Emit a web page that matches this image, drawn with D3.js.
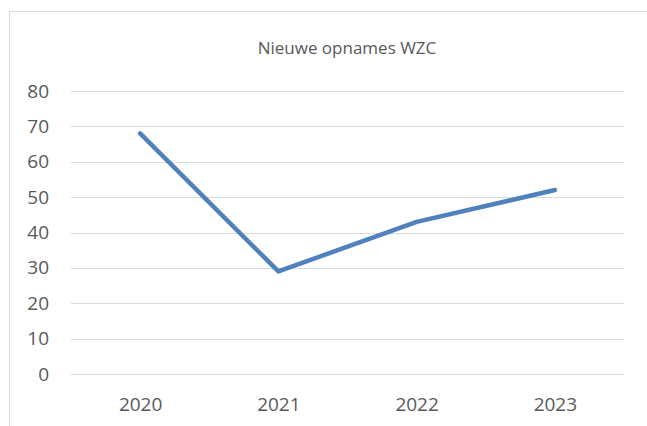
<!DOCTYPE html>
<html>
<head>
<meta charset="utf-8">
<script src="https://cdn.jsdelivr.net/npm/d3@7"></script>
<style>
  html, body { margin: 0; padding: 0; background: #fff; }
  svg { display: block; font-family: "Open Sans", "Liberation Sans", sans-serif; }
</style>
</head>
<body>
<div id="chart"></div>
<script>
const years = ["2020", "2021", "2022", "2023"];
const opnames = [68, 29, 43, 52];
const yTicks = [0, 10, 20, 30, 40, 50, 60, 70, 80];
const chartTitle = "Nieuwe opnames WZC";

const width = 647;
const height = 426;
const plot = { left: 71, right: 624, top: 91, bottom: 374 };

const svg = d3.select("#chart").append("svg")
    .attr("width", width)
    .attr("height", height);

// chart frame (only top and left edges show in the picture)
svg.append("path")
    .attr("d", `M9.5,${height} V11.5 H${width}`)
    .attr("fill", "none")
    .attr("stroke", "#d9d9d9")
    .attr("stroke-width", 1);

const x = d3.scalePoint()
    .domain(years)
    .range([plot.left, plot.right])
    .padding(0.5);

const y = d3.scaleLinear()
    .domain([0, 80])
    .range([plot.bottom, plot.top]);

// gridlines
svg.append("g")
    .selectAll("line")
    .data(yTicks)
    .join("line")
    .attr("x1", plot.left)
    .attr("x2", plot.right)
    .attr("y1", d => Math.round(y(d)) + 0.5)
    .attr("y2", d => Math.round(y(d)) + 0.5)
    .attr("stroke", "#d9d9d9")
    .attr("stroke-width", 1);

// y axis labels
const yAxis = d3.axisLeft(y).tickValues(yTicks).tickSize(0).tickPadding(0);
svg.append("g")
    .attr("transform", "translate(49,0)")
    .call(yAxis)
    .call(g => g.select(".domain").remove())
    .call(g => g.selectAll("text")
        .attr("fill", "#595959")
        .style("font-size", "19px")
        .style("font-family", "'Open Sans', sans-serif"));

// x axis labels
const xAxis = d3.axisBottom(x).tickSize(0).tickPadding(0);
svg.append("g")
    .attr("transform", `translate(0,${plot.bottom + 23})`)
    .call(xAxis)
    .call(g => g.select(".domain").remove())
    .call(g => g.selectAll("text")
        .attr("fill", "#595959")
        .style("font-size", "19px")
        .style("font-family", "'Open Sans', sans-serif"));

// title
svg.append("text")
    .attr("x", 347)
    .attr("y", 54)
    .attr("text-anchor", "middle")
    .attr("fill", "#595959")
    .style("font-size", "17px")
    .text(chartTitle);

// line
const line = d3.line()
    .x((d, i) => x(years[i]))
    .y(d => y(d));

svg.append("path")
    .datum(opnames)
    .attr("d", line)
    .attr("fill", "none")
    .attr("stroke", "#4f81bd")
    .attr("stroke-width", 4.5)
    .attr("stroke-linejoin", "round")
    .attr("stroke-linecap", "round");
</script>
</body>
</html>
